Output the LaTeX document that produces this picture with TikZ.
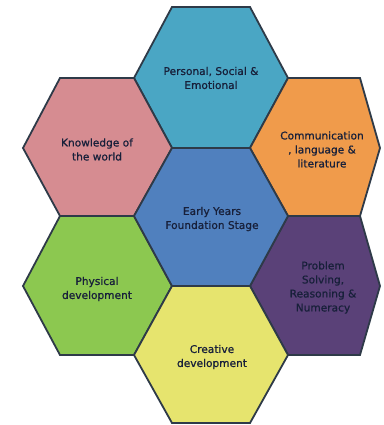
\documentclass[tikz,border=0pt]{standalone}
\usepackage{fontspec}
\setmainfont{DejaVu Sans}[FakeBold=1.2]
\newfontfamily\lblfont{DejaVu Sans}[FakeBold=0.8]
\definecolor{edgec}{HTML}{2E3A48}
\definecolor{txtc}{HTML}{18203A}
\definecolor{cteal}{HTML}{4AA6C4}
\definecolor{cpink}{HTML}{D68C91}
\definecolor{corange}{HTML}{F09B4B}
\definecolor{cblue}{HTML}{5080BE}
\definecolor{cgreen}{HTML}{8CC850}
\definecolor{cpurple}{HTML}{5A4178}
\definecolor{cyellow}{HTML}{E6E46E}
\tikzset{
  hex/.style={draw=edgec, line width=1.8pt, line join=miter},
  lbl/.style={text=txtc, font=\lblfont\fontsize{10.6}{14}\selectfont, align=center, inner sep=0pt}
}
\begin{document}
\begin{tikzpicture}[x=1pt,y=-1pt]
\useasboundingbox (0,0) rectangle (383,425);
\fill[white] (0,0) rectangle (383,425);
% top
\filldraw[hex, fill=cteal] (172,7) -- (250,7) -- (288,78) -- (250,148) -- (172,148) -- (134,78) -- cycle;
% knowledge
\filldraw[hex, fill=cpink] (60,78) -- (134,78) -- (172,148) -- (134,216) -- (60,216) -- (23,148) -- cycle;
% communication
\filldraw[hex, fill=corange] (288,78) -- (360,78) -- (380,148) -- (360,216) -- (288,216) -- (250,148) -- cycle;
% physical
\filldraw[hex, fill=cgreen] (60,216) -- (134,216) -- (172,286) -- (134,355) -- (60,355) -- (23,286) -- cycle;
% problem
\filldraw[hex, fill=cpurple] (288,216) -- (360,216) -- (380,286) -- (360,355) -- (288,355) -- (250,286) -- cycle;
% creative
\filldraw[hex, fill=cyellow] (172,286) -- (250,286) -- (288,355) -- (250,423) -- (172,423) -- (134,355) -- cycle;
% center
\filldraw[hex, fill=cblue] (172,148) -- (250,148) -- (288,216) -- (250,286) -- (172,286) -- (134,216) -- cycle;

\node[lbl] (pse) at (211,78) {Personal, Social \&\\Emotional};
\node[lbl] (kw) at (97,149.5) {Knowledge of\\the world};
\node[lbl] (cll) at (322,149.5) {Communication\\, language \&\\literature};
\node[lbl] (eyfs) at (212,219) {Early Years\\Foundation Stage};
\node[lbl] (pd) at (97,289) {Physical\\development};
\node[lbl] (psrn) at (323,287.5) {Problem\\Solving,\\Reasoning \&\\Numeracy};
\node[lbl] (cd) at (212,357) {Creative\\development};
\end{tikzpicture}
\end{document}
